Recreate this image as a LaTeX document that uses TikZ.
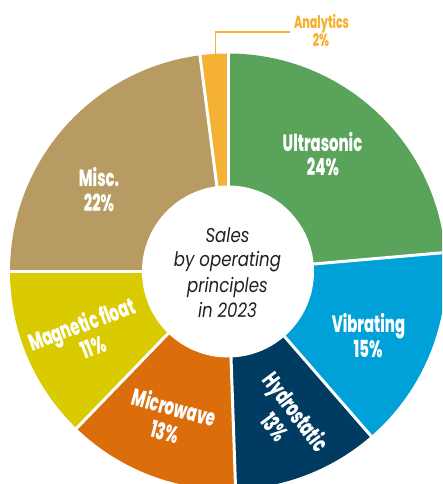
\documentclass[tikz,border=0pt]{standalone}
\usepackage{fontspec}
\IfFontExistsTF{Poppins ExtraBold}
 {\newfontfamily\lblfont{Poppins ExtraBold}[FakeStretch=0.63]\newcommand\lblstyle{\lblfont}}
 {\newfontfamily\lblfont{Poppins}[FakeStretch=0.65,BoldFeatures={FakeBold=0.6}]\newcommand\lblstyle{\lblfont\bfseries}}
\newfontfamily\ctrfont{Poppins}[FakeStretch=0.83]
\definecolor{cUltra}{HTML}{5AA35A}
\definecolor{cVib}{HTML}{00A1D9}
\definecolor{cHydro}{HTML}{003B62}
\definecolor{cMicro}{HTML}{DC6D0B}
\definecolor{cMag}{HTML}{DACB00}
\definecolor{cMisc}{HTML}{B89B62}
\definecolor{cAna}{HTML}{F5B134}
\definecolor{cText}{HTML}{231F20}
\begin{document}
\begin{tikzpicture}[x=1pt,y=1pt,
  lbl/.style={text=white, font=\lblstyle\fontsize{23.5}{25}\selectfont, anchor=base, inner sep=0pt},
  analbl/.style={text=cAna, font=\lblstyle\fontsize{17.5}{18.5}\selectfont, anchor=base, inner sep=0pt},
  ctrlbl/.style={text=cText, font=\ctrfont\itshape\fontsize{20}{25}\selectfont, anchor=base, inner sep=0pt},
  sep/.style={white, line width=3pt},
  hubdisc/.style={circle, fill=white, minimum size=172pt, inner sep=0pt}]
\useasboundingbox (0,0) rectangle (442,484);
\fill[white] (0,0) rectangle (442,484);
\clip (0,0) rectangle (442,484);
\coordinate (C) at (228,212.5);
\def\R{218}
% slices
\foreach \a/\b/\c in {90/5/cUltra, 5/-49/cVib, -49/-88/cHydro, -88/-134/cMicro, -134/-180/cMag, 180/97.4/cMisc, 97.4/90/cAna}
  \fill[\c] (C) -- ++(\a:\R) arc[start angle=\a, end angle=\b, radius=\R] -- cycle;
% separators
\foreach \a in {90,5,-49,-88,-134,180,97.4}
  \draw[sep] (C) -- ++(\a:\R+6);
% hub
\node[hubdisc] (hub) at (C) {};
\node[ctrlbl] (ctr1) at (227.5,241.3) {Sales};
\node[ctrlbl] (ctr2) at (227.5,217) {by operating};
\node[ctrlbl] (ctr3) at (227.5,191) {principles};
\node[ctrlbl] (ctr4) at (227.5,166) {in 2023};
% labels
\node[lbl] (ult1) at (322.5,332.3) {Ultrasonic};
\node[lbl] (ult2) at (323,308) {24\%};
\node[lbl] (vib1) at (368.5,151) {Vibrating};
\node[lbl] (vib2) at (368,126) {15\%};
\node[lbl, rotate=-53] (hyd1) at (289.3,66.7) {Hydrostatic};
\node[lbl, rotate=-53] (hyd2) at (267.6,51.7) {13\%};
\node[lbl, rotate=-15] (mic1) at (172.1,68) {Microwave};
\node[lbl, rotate=-15] (mic2) at (162.9,43.5) {13\%};
\node[lbl, rotate=20] (mag1) at (84.5,151.5) {Magnetic float};
\node[lbl, rotate=20] (mag2) at (96,129) {11\%};
\node[lbl] (misc1) at (99,297.3) {Misc.};
\node[lbl] (misc2) at (99,272.3) {22\%};
\node[analbl] (ana1) at (321.5,455) {Analytics};
\node[analbl] (ana2) at (321,437.3) {2\%};
\coordinate (anaTip) at (215.7,430.2);
\coordinate (anaEnd) at (290,452);
\draw[cAna, line width=1.5pt] (anaTip) |- (anaEnd);
\end{tikzpicture}
\end{document}
